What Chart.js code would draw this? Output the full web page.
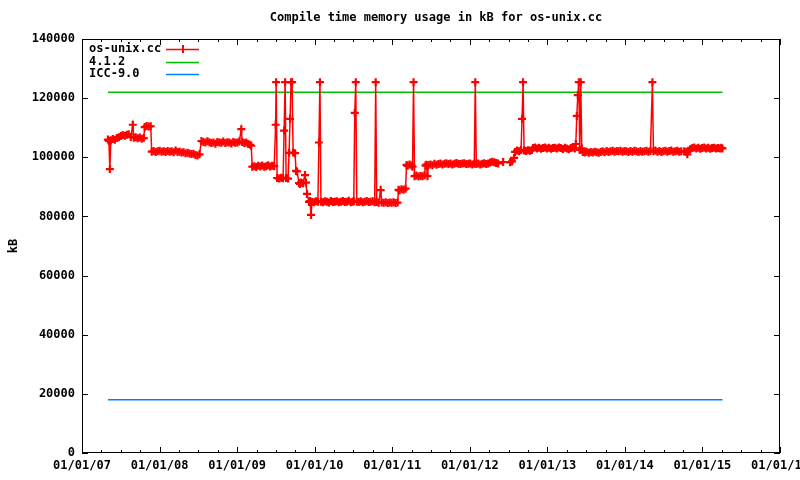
<!DOCTYPE html>
<html>
<head>
<meta charset="utf-8">
<script src="https://cdn.jsdelivr.net/npm/chart.js@4/dist/chart.umd.min.js"></script>
<style>
  html, body { margin: 0; padding: 0; background: #fff; }
  #wrap { width: 800px; height: 480px; }
</style>
</head>
<body>
<div id="wrap"><canvas id="memChart" width="800" height="480"></canvas></div>
<script>
// [decimal year, kB] for os-unix.cc
const memSamples = [
  [2007.334,106000],[2007.347,105500],[2007.359,96000],[2007.372,105800],[2007.398,106200],
  [2007.424,105900],[2007.449,106500],[2007.475,106800],[2007.501,107200],[2007.526,107500],
  [2007.552,107300],[2007.578,107600],[2007.603,107800],[2007.629,106900],[2007.655,111000],
  [2007.668,106600],[2007.693,106800],[2007.719,106400],[2007.745,106700],[2007.770,106300],
  [2007.796,106500],[2007.809,110200],[2007.834,110600],[2007.860,110400],[2007.886,110500],
  [2007.899,101900],[2007.924,102100],[2007.950,101800],[2007.976,102000],[2008.001,102200],
  [2008.027,101900],[2008.053,102000],[2008.078,101800],[2008.104,102100],[2008.130,101900],
  [2008.155,102000],[2008.181,101700],[2008.207,102300],[2008.232,101800],[2008.258,101900],
  [2008.284,101600],[2008.309,101700],[2008.335,101400],[2008.361,101500],[2008.386,101300],
  [2008.412,101100],[2008.438,101200],[2008.463,100800],[2008.489,100600],[2008.515,101000],
  [2008.540,105500],[2008.566,105200],[2008.591,105000],[2008.617,105400],[2008.643,105100],
  [2008.668,104800],[2008.694,105000],[2008.720,104600],[2008.745,105200],[2008.771,105000],
  [2008.797,104900],[2008.822,105300],[2008.848,104800],[2008.874,105100],[2008.899,105000],
  [2008.925,104700],[2008.951,105200],[2008.976,104900],[2009.002,105000],[2009.028,105300],
  [2009.054,109500],[2009.066,105200],[2009.092,104800],[2009.118,105000],[2009.143,104500],
  [2009.169,104200],[2009.182,103900],[2009.195,96800],[2009.221,97000],[2009.246,96700],
  [2009.272,97100],[2009.298,96900],[2009.323,97200],[2009.349,96800],[2009.375,97000],
  [2009.400,97300],[2009.426,96900],[2009.452,97100],[2009.478,97000],[2009.497,111000],
  [2009.503,125400],[2009.516,93000],[2009.542,92800],[2009.567,93100],[2009.593,92900],
  [2009.606,109000],[2009.619,125400],[2009.632,93000],[2009.657,92800],[2009.670,101500],
  [2009.683,113000],[2009.696,125400],[2009.709,125400],[2009.722,101600],[2009.747,101400],
  [2009.760,95400],[2009.773,95200],[2009.798,91300],[2009.811,91000],[2009.824,91500],
  [2009.850,91200],[2009.875,94000],[2009.888,91400],[2009.901,87600],[2009.927,84900],
  [2009.940,85200],[2009.953,80500],[2009.966,85000],[2009.991,84800],[2010.017,85100],
  [2010.042,85000],[2010.055,105000],[2010.068,125400],[2010.081,85000],[2010.107,84800],
  [2010.132,85100],[2010.158,85000],[2010.184,84700],[2010.209,85200],[2010.235,84900],
  [2010.261,85000],[2010.286,85100],[2010.312,84800],[2010.338,85000],[2010.363,85200],
  [2010.389,84900],[2010.415,85000],[2010.440,85300],[2010.466,84800],[2010.491,85000],
  [2010.504,85100],[2010.517,115000],[2010.530,125400],[2010.543,85000],[2010.568,84900],
  [2010.594,85100],[2010.620,84800],[2010.645,85000],[2010.671,85200],[2010.697,84900],
  [2010.722,85000],[2010.748,85100],[2010.774,84800],[2010.787,125400],[2010.800,84900],
  [2010.825,84600],[2010.851,88900],[2010.864,84700],[2010.889,84600],[2010.915,84800],
  [2010.941,84500],[2010.966,84700],[2010.992,84600],[2011.018,84800],[2011.043,84500],
  [2011.069,84700],[2011.082,89000],[2011.095,88800],[2011.120,89200],[2011.146,89000],
  [2011.172,89400],[2011.185,97400],[2011.198,97100],[2011.224,97600],[2011.249,97200],
  [2011.262,96800],[2011.275,125400],[2011.288,93600],[2011.313,93800],[2011.339,93500],
  [2011.364,93700],[2011.390,93600],[2011.416,93900],[2011.429,97200],[2011.441,97500],
  [2011.454,93600],[2011.467,97400],[2011.493,97600],[2011.518,97300],[2011.544,97800],
  [2011.570,97500],[2011.596,97700],[2011.621,97900],[2011.647,97600],[2011.673,97800],
  [2011.698,98000],[2011.724,97700],[2011.750,97900],[2011.775,97600],[2011.801,97800],
  [2011.827,98100],[2011.852,97800],[2011.878,97700],[2011.904,97900],[2011.929,98000],
  [2011.955,97700],[2011.981,97800],[2012.006,97900],[2012.032,97600],[2012.058,97800],
  [2012.071,125400],[2012.084,97700],[2012.109,97900],[2012.135,97600],[2012.161,97800],
  [2012.186,98000],[2012.212,97700],[2012.238,97900],[2012.263,98200],[2012.289,98500],
  [2012.315,98300],[2012.340,98100],[2012.366,97900],[2012.430,98400],[2012.520,98300],
  [2012.545,98600],[2012.571,99800],[2012.584,101800],[2012.610,102300],[2012.635,102000],
  [2012.661,102500],[2012.674,113000],[2012.687,125400],[2012.700,102300],[2012.725,102100],
  [2012.751,102400],[2012.777,102200],[2012.802,102500],[2012.815,103100],[2012.841,103300],
  [2012.866,103000],[2012.892,103200],[2012.918,102900],[2012.943,103100],[2012.969,103300],
  [2012.995,103000],[2013.020,103200],[2013.046,102900],[2013.072,103100],[2013.097,103200],
  [2013.123,103000],[2013.149,103300],[2013.174,103100],[2013.200,102800],[2013.226,103200],
  [2013.251,103000],[2013.277,102700],[2013.303,103100],[2013.328,103300],[2013.354,103000],
  [2013.367,104500],[2013.380,114000],[2013.393,121000],[2013.406,125400],[2013.418,102500],
  [2013.431,125400],[2013.444,103000],[2013.457,101800],[2013.482,101600],[2013.508,101900],
  [2013.534,101500],[2013.559,101800],[2013.585,101600],[2013.611,101900],[2013.636,101700],
  [2013.662,101500],[2013.688,101800],[2013.713,102000],[2013.739,101700],[2013.765,102100],
  [2013.790,101800],[2013.816,102000],[2013.842,102200],[2013.867,101900],[2013.893,102100],
  [2013.918,102000],[2013.944,102200],[2013.970,101900],[2013.995,102100],[2014.021,102000],
  [2014.047,101800],[2014.072,102100],[2014.098,101900],[2014.124,102200],[2014.149,102000],
  [2014.175,101800],[2014.201,102100],[2014.226,101900],[2014.252,102000],[2014.278,102200],
  [2014.303,101900],[2014.329,102100],[2014.355,125400],[2014.368,102000],[2014.393,102300],
  [2014.419,101900],[2014.445,102100],[2014.470,101800],[2014.496,102000],[2014.522,102200],
  [2014.547,101900],[2014.573,102100],[2014.598,102300],[2014.624,101900],[2014.650,102000],
  [2014.675,102200],[2014.701,101900],[2014.727,102000],[2014.765,102000],[2014.791,101900],
  [2014.805,101000],[2014.817,102200],[2014.843,102800],[2014.869,103100],[2014.894,103300],
  [2014.920,103000],[2014.946,103200],[2014.971,102900],[2014.997,103100],[2015.023,103300],
  [2015.048,103000],[2015.074,103200],[2015.100,102900],[2015.125,103100],[2015.151,103200],
  [2015.177,103000],[2015.202,103100],[2015.228,103000],[2015.245,103200],[2015.258,103000]
];
const refYears = [2007.334, 2015.258];
const gccKB = [122000, 122000];   // 4.1.2
const iccKB = [18000, 18000];     // ICC-9.0
const seriesNames = ['os-unix.cc', '4.1.2', 'ICC-9.0'];
const seriesColors = ['#ff0000', '#00c000', '#0080ff'];
const xTickYears = [2007, 2008, 2009, 2010, 2011, 2012, 2013, 2014, 2015, 2016];
const yTickValues = [0, 20000, 40000, 60000, 80000, 100000, 120000, 140000];
const chartTitle = 'Compile time memory usage in kB for os-unix.cc';
const yTitle = 'kB';

const FONT = 'bold 12px "DejaVu Sans Mono", monospace';

// gnuplot-ish frame, inward ticks, title, key
const gnuplotDecor = {
  id: 'gnuplotDecor',
  afterDraw(chart) {
    const ctx = chart.ctx;
    const a = chart.chartArea;
    const xs = chart.scales.x, ys = chart.scales.y;
    ctx.save();
    ctx.strokeStyle = '#000';
    ctx.lineWidth = 1;
    ctx.strokeRect(Math.round(a.left) + 0.5, Math.round(a.top) + 0.5,
      Math.round(a.right - a.left) - 1, Math.round(a.bottom - a.top) - 1);
    ctx.beginPath();
    for (let q = 0; q <= (xTickYears.length - 1) * 4; q++) {
      const px = Math.round(xs.getPixelForValue(xTickYears[0] + q / 4)) + 0.5;
      const len = q % 4 === 0 ? 6 : 3;
      ctx.moveTo(px, a.bottom); ctx.lineTo(px, a.bottom - len);
      ctx.moveTo(px, a.top); ctx.lineTo(px, a.top + len);
    }
    yTickValues.forEach(v => {
      const py = Math.round(ys.getPixelForValue(v)) + 0.5;
      ctx.moveTo(a.left, py); ctx.lineTo(a.left + 6, py);
      ctx.moveTo(a.right, py); ctx.lineTo(a.right - 6, py);
    });
    ctx.stroke();

    ctx.fillStyle = '#000';
    ctx.font = FONT;
    ctx.textBaseline = 'middle';
    ctx.textAlign = 'center';
    ctx.fillText(chartTitle, 436, 18);

    ctx.save();
    ctx.translate(14, 246);
    ctx.rotate(-Math.PI / 2);
    ctx.fillText(yTitle, 0, 0);
    ctx.restore();

    // key
    ctx.textAlign = 'left';
    seriesNames.forEach((name, i) => {
      const y = 49 + i * 12.5;
      ctx.fillStyle = '#000';
      ctx.fillText(name, 89, y);
      ctx.strokeStyle = seriesColors[i];
      ctx.lineWidth = 1.5;
      ctx.beginPath();
      ctx.moveTo(166, Math.round(y) + 0.5); ctx.lineTo(199, Math.round(y) + 0.5);
      ctx.stroke();
      if (i === 0) {
        ctx.lineWidth = 2;
        ctx.beginPath();
        ctx.moveTo(183, y - 4); ctx.lineTo(183, y + 4);
        ctx.stroke();
      }
    });
    ctx.restore();
  }
};

new Chart(document.getElementById('memChart'), {
  type: 'line',
  data: {
    datasets: [
      {
        label: seriesNames[0],
        data: memSamples.map(p => ({ x: p[0], y: p[1] })),
        borderColor: seriesColors[0],
        backgroundColor: seriesColors[0],
        borderWidth: 1.5,
        pointStyle: 'cross',
        pointRadius: 4,
        pointBorderWidth: 2.2,
        pointHoverRadius: 4,
        tension: 0
      },
      {
        label: seriesNames[1],
        data: refYears.map((x, i) => ({ x: x, y: gccKB[i] })),
        borderColor: seriesColors[1],
        borderWidth: 1.5,
        pointRadius: 0
      },
      {
        label: seriesNames[2],
        data: refYears.map((x, i) => ({ x: x, y: iccKB[i] })),
        borderColor: seriesColors[2],
        borderWidth: 1.5,
        pointRadius: 0
      }
    ]
  },
  options: {
    responsive: false,
    animation: false,
    events: [],
    layout: { padding: { left: 0, right: 20, top: 39, bottom: 0 } },
    plugins: {
      legend: { display: false },
      title: { display: false },
      tooltip: { enabled: false }
    },
    scales: {
      x: {
        type: 'linear',
        min: xTickYears[0],
        max: xTickYears[xTickYears.length - 1],
        grid: { display: false, drawTicks: false },
        border: { display: false },
        afterBuildTicks: s => { s.ticks = xTickYears.map(v => ({ value: v })); },
        afterFit: s => { s.height = 27; s.paddingLeft = 0; s.paddingRight = 0; },
        ticks: {
          autoSkip: false,
          maxRotation: 0,
          padding: 6,
          color: '#000',
          font: { family: '"DejaVu Sans Mono", monospace', size: 12, weight: 'bold' },
          callback: v => '01/01/' + String(v).slice(2)
        }
      },
      y: {
        min: 0,
        max: 140000,
        grid: { display: false, drawTicks: false },
        border: { display: false },
        afterBuildTicks: s => { s.ticks = yTickValues.map(v => ({ value: v })); },
        afterFit: s => { s.width = 82; s.paddingTop = 0; s.paddingBottom = 0; },
        ticks: {
          padding: 7,
          color: '#000',
          font: { family: '"DejaVu Sans Mono", monospace', size: 12, weight: 'bold' },
          callback: v => String(v)
        }
      }
    }
  },
  plugins: [gnuplotDecor]
});
</script>
</body>
</html>
